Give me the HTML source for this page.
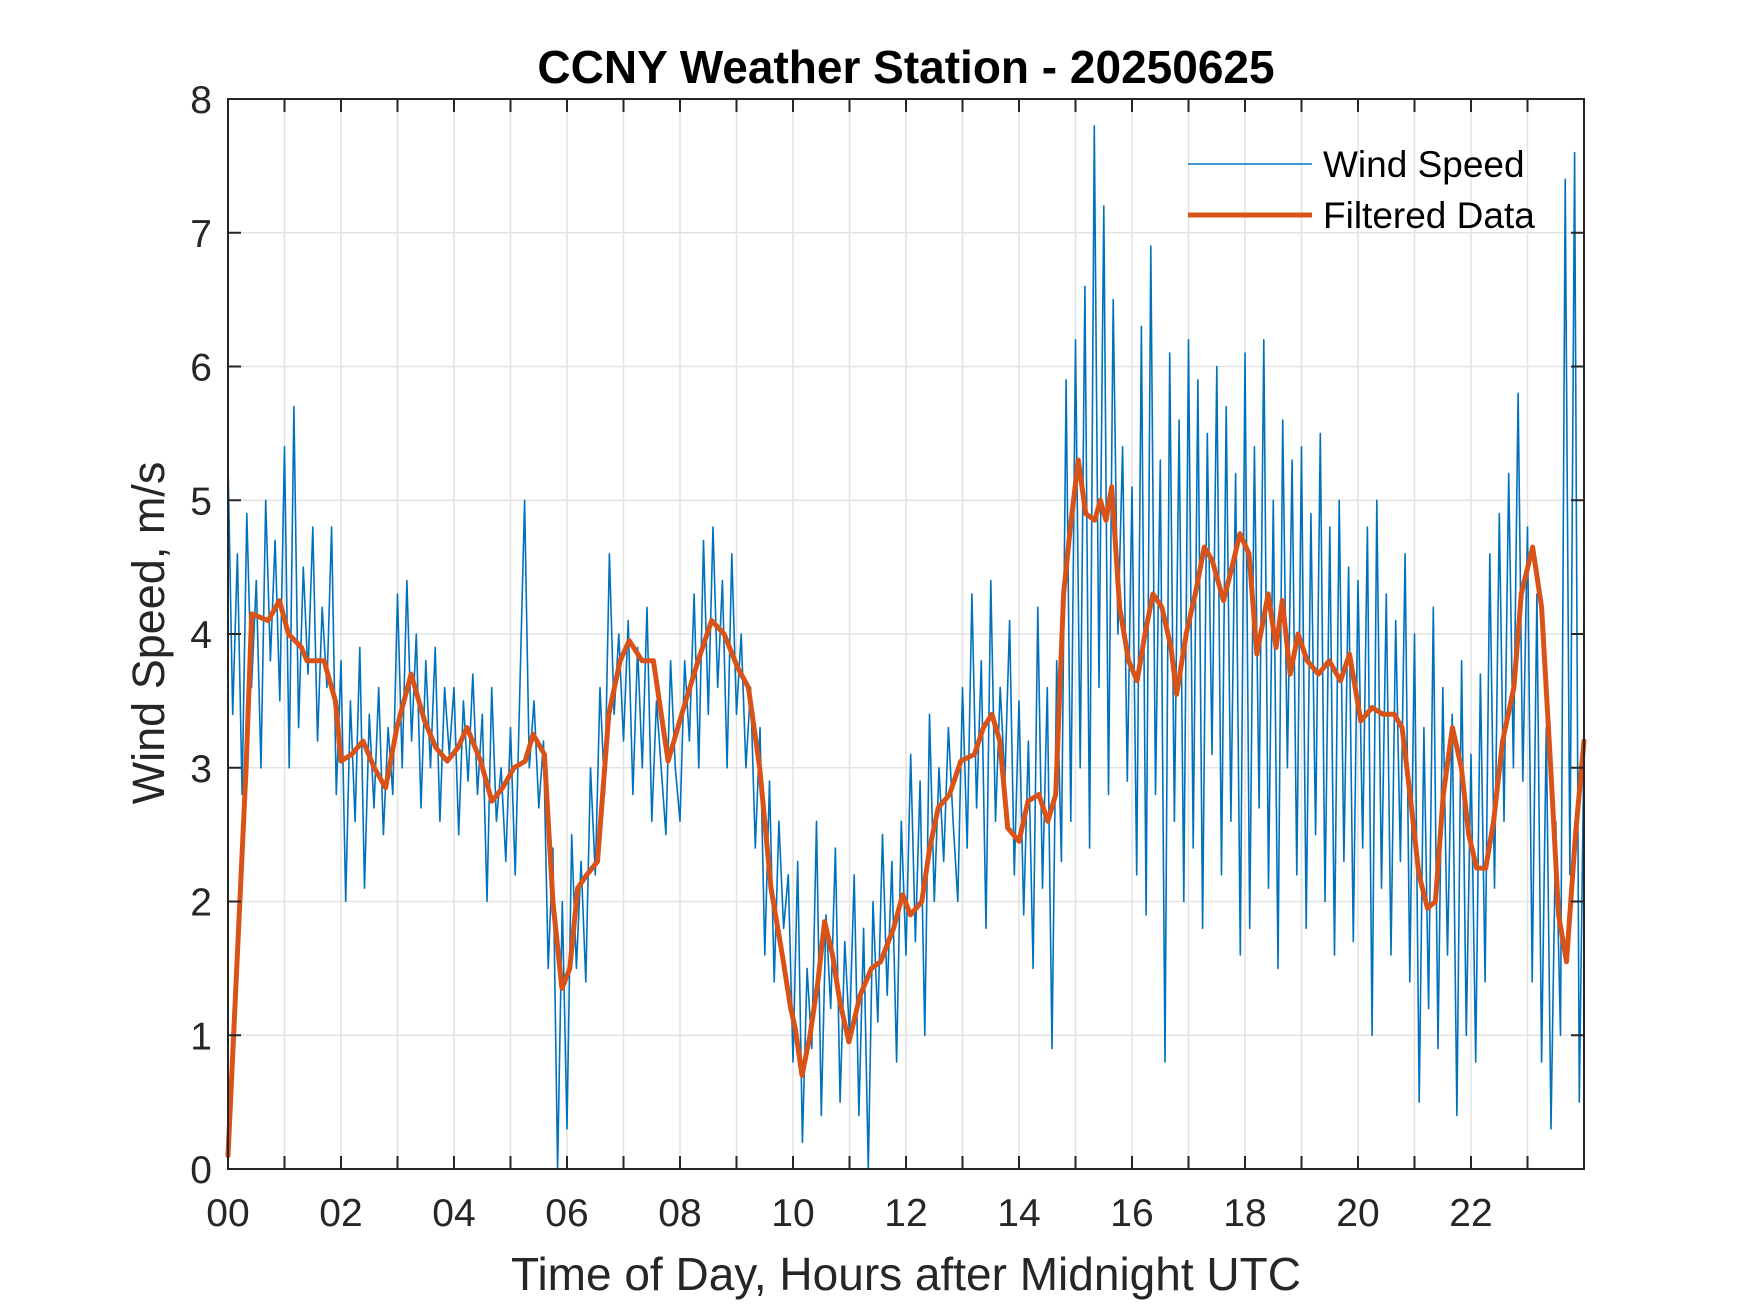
<!DOCTYPE html>
<html><head><meta charset="utf-8"><style>
html,body{margin:0;padding:0;background:#fff;}
svg{display:block;font-family:"Liberation Sans",Arial,sans-serif;}
</style></head><body>
<svg id="chart" width="1750" height="1313" viewBox="0 0 1750 1313" xmlns="http://www.w3.org/2000/svg">
<rect x="0" y="0" width="1750" height="1313" fill="#fff"/>
<g id="grid"></g>
<g id="series"></g>
<g id="axes"></g>
<text x="906" y="83" text-anchor="middle" font-size="46" font-weight="bold" fill="#000">CCNY Weather Station - 20250625</text>
<text x="906" y="1290" text-anchor="middle" font-size="46" fill="#262626">Time of Day, Hours after Midnight UTC</text>
<text transform="translate(164,633) rotate(-90)" text-anchor="middle" font-size="45" fill="#262626">Wind Speed, m/s</text>
<g>
<line x1="1188" y1="164" x2="1312" y2="164" stroke="#0072BD" stroke-width="1.5"/>
<text x="1323" y="177" font-size="37" fill="#000">Wind Speed</text>
<line x1="1188" y1="215" x2="1312" y2="215" stroke="#D95319" stroke-width="5"/>
<text x="1323" y="228" font-size="37" fill="#000">Filtered Data</text>
</g>
</svg>
<script>
const xTicks=[0,2,4,6,8,10,12,14,16,18,20,22];
const xTickLabels=["00","02","04","06","08","10","12","14","16","18","20","22"];
const yTicks=[0,1,2,3,4,5,6,7,8];
const yTickLabels=["0","1","2","3","4","5","6","7","8"];
const windStepHours=1/12;
const windSpeed=[
5.3,3.4,4.6,2.8,4.9,3.6,4.4,3.0,5.0,3.8,4.7,3.5,
5.4,3.0,5.7,3.3,4.5,3.7,4.8,3.2,4.2,3.6,4.8,2.8,
3.8,2.0,3.5,2.6,3.9,2.1,3.4,2.7,3.6,2.5,3.3,2.8,
4.3,3.0,4.4,3.2,4.0,2.7,3.8,3.0,3.9,2.6,3.6,3.1,
3.6,2.5,3.5,2.9,3.7,2.8,3.4,2.0,3.6,2.6,3.0,2.3,
3.3,2.2,3.6,5.0,3.0,3.5,2.7,3.2,1.5,2.4,0.0,2.0,
0.3,2.5,1.5,2.3,1.4,3.0,2.2,3.6,2.8,4.6,3.4,4.0,
3.2,4.1,2.8,3.9,3.0,4.2,2.6,3.5,3.0,2.5,3.8,3.0,
2.6,3.8,3.2,4.3,3.0,4.7,3.4,4.8,3.6,4.4,3.0,4.6,
3.4,4.0,3.0,3.6,2.4,3.3,1.6,2.9,1.4,2.6,1.8,2.2,
0.8,2.3,0.2,1.5,0.9,2.6,0.4,1.9,1.2,2.4,0.5,1.7,
1.0,2.2,0.4,1.8,0.0,2.0,1.1,2.5,1.3,2.3,0.8,2.6,
1.6,3.1,1.7,2.9,1.0,3.4,2.0,3.0,2.3,3.3,2.6,2.0,
3.6,2.4,4.3,2.7,3.8,1.8,4.4,2.6,3.6,2.9,4.1,2.2,
3.5,1.9,3.2,1.5,4.2,2.1,3.6,0.9,3.8,2.3,5.9,2.6,
6.2,3.0,6.6,2.4,7.8,3.6,7.2,2.8,6.5,4.0,5.4,2.9,
5.1,2.2,6.3,1.9,6.9,2.8,5.3,0.8,6.1,2.6,5.6,2.0,
6.2,2.4,5.9,1.8,5.5,3.1,6.0,2.2,5.7,2.6,5.2,1.6,
6.1,1.8,5.4,2.7,6.2,2.1,5.0,1.5,5.6,3.0,5.3,2.2,
5.4,1.8,4.9,2.5,5.5,2.0,4.8,1.6,5.0,2.3,4.5,1.7,
4.4,2.4,4.8,1.0,5.0,2.1,4.3,1.6,4.1,2.3,4.6,1.4,
4.0,0.5,3.3,1.2,4.2,0.9,3.6,1.6,3.4,0.4,3.8,1.0,
3.1,0.8,3.7,1.4,4.6,2.1,4.9,2.6,5.2,3.0,5.8,2.9,
4.8,1.4,4.3,0.8,3.3,0.3,2.6,1.0,7.4,2.2,7.6,0.5,
3.2];
const filteredHours=[0,.32,.42,.71,.91,1.07,1.30,1.40,1.70,1.90,2.00,2.19,2.39,2.59,2.79,2.99,3.24,3.48,3.68,3.88,4.07,4.23,4.47,4.67,4.86,5.06,5.26,5.40,5.60,5.75,5.91,6.05,6.19,6.35,6.54,6.74,6.94,7.10,7.33,7.53,7.79,8.03,8.32,8.56,8.78,9.02,9.21,9.41,9.61,9.81,9.96,10.04,10.16,10.30,10.44,10.56,10.70,10.83,10.99,11.19,11.39,11.55,11.78,11.94,12.08,12.28,12.42,12.57,12.77,12.97,13.21,13.37,13.52,13.66,13.80,14.00,14.16,14.35,14.51,14.65,14.79,14.91,15.05,15.18,15.34,15.44,15.54,15.64,15.78,15.94,16.09,16.23,16.37,16.53,16.69,16.79,16.96,17.12,17.28,17.42,17.62,17.77,17.91,18.07,18.21,18.41,18.55,18.66,18.80,18.94,19.10,19.30,19.49,19.69,19.85,20.05,20.25,20.44,20.64,20.78,20.92,21.08,21.23,21.37,21.51,21.67,21.83,21.96,22.10,22.26,22.40,22.56,22.76,22.89,23.09,23.25,23.41,23.55,23.69,23.85,24.0];
const filteredValues=[0.1,3.0,4.15,4.1,4.25,4.0,3.9,3.8,3.8,3.5,3.05,3.1,3.2,3.0,2.85,3.3,3.7,3.35,3.15,3.05,3.15,3.3,3.05,2.75,2.85,3.0,3.05,3.25,3.1,2.0,1.35,1.5,2.1,2.2,2.3,3.4,3.8,3.95,3.8,3.8,3.05,3.4,3.8,4.1,4.0,3.75,3.6,3.0,2.1,1.6,1.2,1.05,0.7,1.0,1.4,1.85,1.6,1.25,0.95,1.3,1.5,1.55,1.8,2.05,1.9,2.0,2.4,2.7,2.8,3.05,3.1,3.3,3.4,3.2,2.55,2.45,2.75,2.8,2.6,2.8,4.3,4.8,5.3,4.9,4.85,5.0,4.85,5.1,4.2,3.8,3.65,4.0,4.3,4.2,3.9,3.55,4.0,4.3,4.65,4.55,4.25,4.5,4.75,4.6,3.85,4.3,3.9,4.25,3.7,4.0,3.8,3.7,3.8,3.65,3.85,3.35,3.45,3.4,3.4,3.3,2.8,2.2,1.95,2.0,2.8,3.3,3.0,2.5,2.25,2.25,2.6,3.2,3.6,4.3,4.65,4.2,3.0,1.9,1.55,2.5,3.2];

const L=228,R=1584,T=99,B=1169,XMAX=24,YMAX=8;
const xs=h=>L+(R-L)*h/XMAX;
const ys=v=>B-(B-T)*v/YMAX;
const NS="http://www.w3.org/2000/svg";
function mk(tag,attrs,parent){const e=document.createElementNS(NS,tag);for(const k in attrs)e.setAttribute(k,attrs[k]);parent.appendChild(e);return e;}
const grid=document.getElementById('grid'),series=document.getElementById('series'),axes=document.getElementById('axes');
for(let h=1;h<XMAX;h++){
  const g=mk('line',{x1:xs(h),y1:T,x2:xs(h),y2:B,stroke:'#e3e3e3','stroke-width':1.5},grid);
  
  
}
for(let i=1;i<yTicks.length-1;i++){
  const g=mk('line',{x1:L,y1:ys(yTicks[i]),x2:R,y2:ys(yTicks[i]),stroke:'#e3e3e3','stroke-width':1.5},grid);
  
  
}
let d='';
windSpeed.forEach((v,i)=>{d+=(i?'L':'M')+xs(i*windStepHours).toFixed(1)+' '+ys(v).toFixed(1);});
const wl=mk('path',{d:d,fill:'none',stroke:'#0072BD','stroke-width':1.6,'stroke-linejoin':'round'},series);


let d2='';
filteredValues.forEach((v,i)=>{d2+=(i?'L':'M')+xs(filteredHours[i]).toFixed(1)+' '+ys(v).toFixed(1);});
const fl=mk('path',{d:d2,fill:'none',stroke:'#D95319','stroke-width':5,'stroke-linejoin':'round','stroke-linecap':'round'},series);


const box=mk('rect',{x:L,y:T,width:R-L,height:B-T,fill:'none',stroke:'#262626','stroke-width':2},axes);


for(let h=1;h<XMAX;h++){
  const t1=mk('line',{x1:xs(h),y1:B,x2:xs(h),y2:B-13,stroke:'#262626','stroke-width':2},axes);
  
  
  const t2=mk('line',{x1:xs(h),y1:T,x2:xs(h),y2:T+13,stroke:'#262626','stroke-width':2},axes);
  
  
}
xTicks.forEach((h,i)=>{
  const t=mk('text',{x:xs(h),y:1226,'text-anchor':'middle','font-size':39,fill:'#262626'},axes);
  t.textContent=xTickLabels[i];
  
  
});
yTicks.forEach((v,i)=>{
  if(i>0&&i<yTicks.length-1){
    const a=mk('line',{x1:L,y1:ys(v),x2:L+13,y2:ys(v),stroke:'#262626','stroke-width':2},axes);
    
    
    const b=mk('line',{x1:R,y1:ys(v),x2:R-13,y2:ys(v),stroke:'#262626','stroke-width':2},axes);
    
    
  }
  const t=mk('text',{x:212,y:ys(v)+14,'text-anchor':'end','font-size':39,fill:'#262626'},axes);
  t.textContent=yTickLabels[i];
  
  
});
</script>
</body></html>
